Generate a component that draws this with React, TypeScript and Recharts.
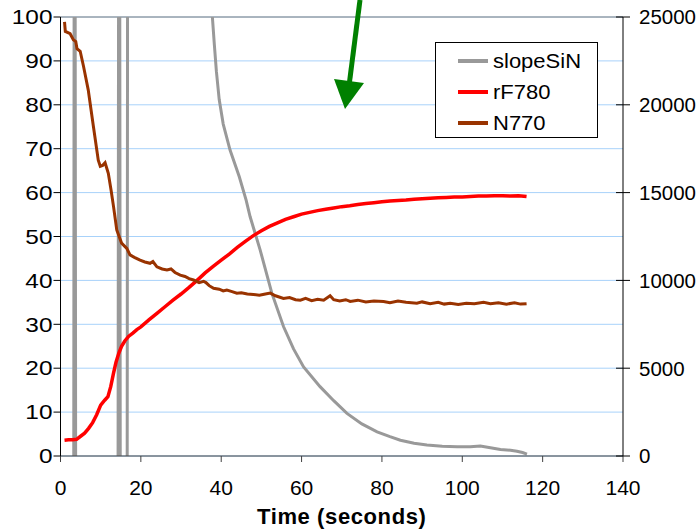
import React from 'react';
import { LineChart, Line, XAxis, YAxis, CartesianGrid, ReferenceLine } from 'recharts';

// time (s) / value pairs
const slopeTime = [1, 3.2, 3.5, 3.9, 14.2, 14.6, 15.0, 16.5, 16.8, 37.6, 37.8, 38.3, 38.8, 39.5, 40.5, 42.2, 44.5, 46.2, 47.2, 49.7, 52.6, 55.5, 58, 60.5, 64.6, 68, 71.3, 75, 78.8, 82, 84.6, 88, 91.2, 95, 98.7, 102, 104.5, 107, 109.5, 112, 113.6, 115, 116.1];
const slopeVal = [-30000, -30000, 60000, -30000, -30000, 60000, -30000, -30000, 60000, 60000, 25000, 23400, 21900, 20300, 18900, 17425, 15900, 14575, 13625, 11725, 9275, 7375, 6100, 5075, 3950, 3150, 2425, 1825, 1375, 1100, 900, 725, 625, 550, 525, 525, 575, 475, 375, 325, 275, 200, 110];

const rfTime = [1, 2, 3, 4, 5, 6, 7, 8, 9, 10, 11, 11.8, 12.5, 13.2, 13.8, 14.5, 15.2, 16, 17, 18, 19, 20, 22, 24, 26, 28, 30, 32, 34, 36, 38, 40, 42, 44, 46, 48, 50, 52, 54, 56, 58, 60, 62, 64, 66, 68, 70, 72, 74, 76, 78, 80, 82, 84, 86, 88, 90, 92, 94, 96, 98, 100, 102, 104, 106, 108, 110, 112, 114, 116];
const rfVal = [3.6, 3.7, 3.7, 3.8, 4.5, 5.2, 6.3, 7.6, 9.4, 11.6, 12.7, 13.5, 15.8, 18.9, 21.3, 23.4, 25.0, 26.2, 27.3, 28.0, 28.8, 29.4, 31.0, 32.5, 34.0, 35.5, 36.9, 38.4, 40.0, 41.7, 43.2, 44.6, 46.0, 47.5, 48.9, 50.2, 51.3, 52.3, 53.1, 53.9, 54.5, 55.1, 55.5, 55.9, 56.2, 56.5, 56.8, 57.0, 57.3, 57.5, 57.7, 57.9, 58.1, 58.2, 58.3, 58.5, 58.6, 58.7, 58.8, 58.9, 59.0, 59.0, 59.1, 59.2, 59.2, 59.3, 59.3, 59.2, 59.3, 59.1];

const nTime = [1, 1.2, 2.4, 3.2, 3.8, 4.1, 4.9, 5.7, 6.9, 8.2, 9.4, 9.9, 10.5, 11.1, 11.9, 12.6, 13.2, 14.0, 15.2, 16.5, 17.3, 18.5, 19.8, 21, 22.3, 23, 24, 25.3, 26.5, 27.5, 28.5, 29.8, 31, 32, 33.1, 34.5, 35.6, 36.2, 37, 38.1, 39.5, 40.5, 41.4, 42.5, 43.9, 45, 46.5, 48, 49.5, 51, 52.2, 53.5, 55.5, 57, 58.5, 59.7, 61, 62.5, 64, 65.5, 67.1, 68, 69.5, 71, 72.1, 74, 76, 78, 80.4, 82, 84, 86, 88.7, 90, 92, 94, 95.5, 97, 99, 101, 103, 105.3, 107, 109, 111, 113, 114.5, 116];
const nVal = [98.9, 96.7, 96.2, 94.8, 94.4, 92.8, 92.2, 88.9, 83.4, 75.0, 67.4, 66.0, 66.2, 66.8, 64.4, 60.5, 56.8, 51.5, 48.5, 47.3, 45.8, 45.2, 44.6, 44.2, 43.9, 44.3, 43.1, 42.6, 42.4, 42.6, 41.8, 41.2, 40.9, 40.4, 40.1, 39.5, 39.8, 39.5, 38.8, 38.2, 38.0, 37.6, 37.8, 37.5, 37.1, 37.2, 36.9, 36.8, 36.6, 36.9, 37.1, 36.5, 35.9, 36.1, 35.6, 35.5, 35.9, 35.4, 35.7, 35.5, 36.5, 35.6, 35.3, 35.6, 35.2, 35.5, 35.1, 35.3, 35.2, 34.9, 35.3, 35.0, 34.8, 35.1, 34.7, 35.0, 34.6, 34.8, 34.5, 34.8, 34.7, 35.0, 34.7, 34.9, 34.6, 34.9, 34.6, 34.7];

const xTicks = [0, 20, 40, 60, 80, 100, 120, 140];
const leftTicks = [0, 10, 20, 30, 40, 50, 60, 70, 80, 90, 100];
const rightTicks = [0, 5000, 10000, 15000, 20000, 25000];

const slopeData = slopeTime.map((t, i) => ({ t, v: slopeVal[i] }));
const rfData = rfTime.map((t, i) => ({ t, v: rfVal[i] }));
const nData = nTime.map((t, i) => ({ t, v: nVal[i] }));

const FONT = '"Liberation Sans", Arial, sans-serif';

const LeftTick = (props: any) => {
  const { x, y, payload } = props;
  return (
    <text transform={`translate(${x},${y}) scale(1.22,1)`} textAnchor="end" dy="0.36em" fontSize={20} fontFamily={FONT} fill="#000">
      {payload.value}
    </text>
  );
};

// right axis ticks cross the axis, so draw the inner half here
const RightTick = (props: any) => {
  const { x, y, payload } = props;
  return (
    <g>
      <line x1={x - 23} x2={x - 16} y1={y} y2={y} stroke="#000" />
      <text x={x} y={y} dy="0.36em" textAnchor="start" fontSize={20.5} fontFamily={FONT} fill="#000">
        {payload.value}
      </text>
    </g>
  );
};

const AxisTitle = (props: any) => {
  const { viewBox } = props;
  return (
    <text x={viewBox.x + viewBox.width / 2} y={viewBox.y + 68} textAnchor="middle" fontSize={22} fontWeight="bold" fontFamily={FONT} fill="#000" letterSpacing={0.6}>
      Time (seconds)
    </text>
  );
};

const legendItems = [
  { name: 'slopeSiN', color: '#999999' },
  { name: 'rF780', color: '#ff0000' },
  { name: 'N770', color: '#993300' },
];

export default function App() {
  return (
    <div style={{ position: 'relative', width: 700, height: 531, background: '#fff' }}>
      <style>{`body{margin:0}`}</style>
      <LineChart width={700} height={531} margin={{ top: 17, right: 7, left: 0, bottom: 0 }}>
        <CartesianGrid yAxisId="left" vertical={false} stroke="#a8d2fa" />
        <XAxis
          dataKey="t"
          type="number"
          domain={[0, 140]}
          ticks={xTicks}
          height={75}
          tickSize={6}
          tickMargin={18}
          stroke="#404040"
          tick={{ fontSize: 21, fontFamily: FONT, fill: '#000' }}
          label={<AxisTitle />}
          allowDuplicatedCategory={false}
        />
        <YAxis
          yAxisId="left"
          domain={[0, 100]}
          ticks={leftTicks}
          width={60.5}
          tickSize={7}
          tickMargin={1}
          stroke="#000"
          tick={<LeftTick />}
          allowDataOverflow
        />
        <YAxis
          yAxisId="right"
          orientation="right"
          domain={[0, 25000]}
          ticks={rightTicks}
          width={70}
          tickSize={7}
          tickMargin={9}
          stroke="#000"
          tick={<RightTick />}
          allowDataOverflow
        />
        <ReferenceLine yAxisId="left" y={100} stroke="#808080" strokeWidth={1} />
        <Line yAxisId="right" data={slopeData} dataKey="v" type="linear" stroke="#999999" strokeWidth={3} dot={false} isAnimationActive={false} name="slopeSiN" />
        <Line yAxisId="left" data={rfData} dataKey="v" type="linear" stroke="#ff0000" strokeWidth={3.5} dot={false} isAnimationActive={false} name="rF780" />
        <Line yAxisId="left" data={nData} dataKey="v" type="linear" stroke="#993300" strokeWidth={3} dot={false} isAnimationActive={false} name="N770" />
      </LineChart>

      {/* legend box */}
      <div style={{ position: 'absolute', left: 435, top: 42, width: 161, height: 94, border: '1px solid #000', background: '#fff', fontFamily: FONT, fontSize: 20 }}>
        {legendItems.map((it, i) => (
          <div key={it.name} style={{ position: 'absolute', left: 0, top: 18 + i * 31 - 12, height: 24, display: 'flex', alignItems: 'center' }}>
            <div style={{ marginLeft: 22, width: 30, height: 4, background: it.color }} />
            <span style={{ marginLeft: 5, lineHeight: '24px', display: 'inline-block', transform: 'scaleX(1.1)', transformOrigin: 'left center' }}>{it.name}</span>
          </div>
        ))}
      </div>

      {/* green annotation arrow */}
      <svg width={700} height={531} style={{ position: 'absolute', left: 0, top: 0, pointerEvents: 'none' }}>
        <line x1={360} y1={0} x2={349} y2={86} stroke="#008000" strokeWidth={5} />
        <polygon points="334,79 364,83 345,109" fill="#008000" />
      </svg>
    </div>
  );
}
